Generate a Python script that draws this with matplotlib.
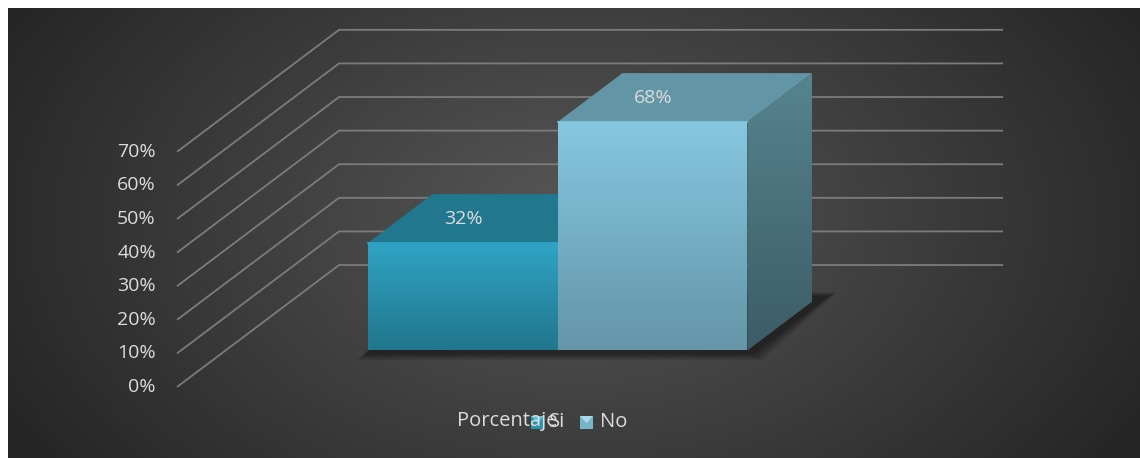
import numpy as np
import matplotlib.pyplot as plt
from matplotlib.patches import Polygon, Rectangle
from matplotlib.colors import LinearSegmentedColormap, to_rgb

plt.rcParams['font.family'] = ['Open Sans', 'DejaVu Sans']

# data
series = ["Si", "No"]
values = [32, 68]
value_labels = ["32%", "68%"]
ticks = [0, 10, 20, 30, 40, 50, 60, 70]
tick_labels = ["0%", "10%", "20%", "30%", "40%", "50%", "60%", "70%"]
legend_title = "Porcentaje"

# styles
front_top = ["#30a4c4", "#86c7e0"]
front_bot = ["#21768d", "#6496a8"]
top_cols = ["#21778d", "#6296a7"]
side_top = "#55848f"
side_bot = "#3d5c67"
text_col = "#dcdcdc"
grid_col = "#7c7c7c"

W, H = 1140, 458
fig = plt.figure(figsize=(W / 100, H / 100), dpi=100, facecolor="white")
ax = fig.add_axes([0, 0, 1, 1])
ax.axis("off")

# one category, spanning u in [-0.5, 0.5]; value axis in percent
XLIM = (-0.7666, 0.9503)
YLIM = (-21.13, 115.18)
DX, DY = 0.244, 36.3          # full depth offset of the floor/back wall
bw = 1 / 3.5                  # bar width (gap width 150%)
d0, d1 = 0.3, 0.7             # bar depth range


def P(u, v, d):
    return (u + d * DX, v + d * DY)


def px2data(px, py):
    u = XLIM[0] + px / W * (XLIM[1] - XLIM[0])
    v = YLIM[1] - py / H * (YLIM[1] - YLIM[0])
    return u, v


def grad_fill(verts, c_top, c_bot, z):
    poly = Polygon(verts, closed=True, facecolor="none", edgecolor="none",
                   transform=ax.transData)
    xs = [p[0] for p in verts]
    ys = [p[1] for p in verts]
    cmap = LinearSegmentedColormap.from_list("g", [c_bot, c_top])
    g = np.linspace(1, 0, 100).reshape(-1, 1)
    im = ax.imshow(g, extent=(min(xs), max(xs), min(ys), max(ys)),
                   cmap=cmap, aspect="auto", origin="upper", zorder=z,
                   interpolation="bilinear")
    im.set_clip_path(poly)


# background radial gradient
bx0, by0 = px2data(8, 8)
bx1, by1 = px2data(W, H)
gy, gx = np.mgrid[8:H:2, 8:W:2]
r = np.sqrt(((gx - 575) / 640.0) ** 2 + ((gy - 220) / 420.0) ** 2)
r = np.clip(r, 0, 1)
c_in = np.array(to_rgb("#575757"))
c_out = np.array(to_rgb("#262626"))
bg = c_in[None, None, :] * (1 - r[..., None]) + c_out[None, None, :] * r[..., None]
ax.imshow(bg, extent=(bx0, bx1, by1, by0), origin="upper", aspect="auto",
          zorder=0, interpolation="bilinear")

# gridlines on side and back walls
for t in ticks:
    a = P(-0.5, t, 0)
    b = P(-0.5, t, 1)
    c = P(0.5, t, 1)
    ax.plot([a[0], b[0], c[0]], [a[1], b[1], c[1]], color=grid_col, lw=1.3,
            zorder=1, solid_capstyle="butt")

for t, lab in zip(ticks, tick_labels):
    ax.text(-0.5 - 0.032, t, lab, ha="right", va="center", fontsize=14,
            color=text_col, zorder=5)

# soft shadow under bars (footprint, slightly pushed right and blurred)
foot = [P(-bw, 0, d0 - 0.02), P(bw, 0, d0 - 0.02),
        P(bw, 0, d1 + 0.04), P(-bw, 0, d1 + 0.04)]
for k in range(10, 0, -1):
    e = 0.0016 * k
    ev = 0.45 * k
    verts = [(foot[0][0] - e + 0.004, foot[0][1] - ev * 0.5),
             (foot[1][0] + e + 0.012, foot[1][1] - ev * 0.5),
             (foot[2][0] + e + 0.012, foot[2][1] + ev * 0.3),
             (foot[3][0] - e, foot[3][1] + ev * 0.3)]
    ax.add_patch(Polygon(verts, closed=True, facecolor="black",
                         edgecolor="none", alpha=0.05, zorder=2))

# bars
for i, (name, val, lab) in enumerate(zip(series, values, value_labels)):
    u0 = -bw + i * bw
    u1 = u0 + bw
    front = [P(u0, 0, d0), P(u1, 0, d0), P(u1, val, d0), P(u0, val, d0)]
    top = [P(u0, val, d0), P(u1, val, d0), P(u1, val, d1), P(u0, val, d1)]
    side = [P(u1, 0, d0), P(u1, 0, d1), P(u1, val, d1), P(u1, val, d0)]
    z = 3 + i * 0.5
    grad_fill(side, side_top, side_bot, z)
    ax.add_patch(Polygon(top, closed=True, facecolor=top_cols[i],
                         edgecolor="none", zorder=z))
    grad_fill(front, front_top[i], front_bot[i], z + 0.1)
    ax.plot([front[3][0], front[2][0]], [front[3][1], front[2][1]],
            color=front_top[i], lw=1.2, zorder=z + 0.2)
    lx, ly = P((u0 + u1) / 2 - 0.048, val, 0.5)
    ax.text(lx, ly, lab, ha="center", va="center", fontsize=14,
            color=text_col, zorder=6)

ax.set_xlim(*XLIM)
ax.set_ylim(*YLIM)


# legend
def fig_xy(px, py):
    return px / W, 1 - py / H


fig.text(*fig_xy(457, 421), legend_title, ha="left", va="center",
         fontsize=14.5, color=text_col)
marker_cols = [("#2a93b0", "#5fc0dc"), ("#78b4c8", "#a8d8ea")]
for (mx, tx), name, (mc, ml) in zip([(531, 549), (580, 600)], series,
                                     marker_cols):
    x0, y0 = fig_xy(mx, 429)
    w, h = 13 / W, 13 / H
    fig.add_artist(Rectangle((x0, y0), w, h, transform=fig.transFigure,
                             facecolor=mc, edgecolor="none"))
    fig.add_artist(Polygon([(x0, y0 + h), (x0 + w, y0 + h),
                            (x0 + w / 2, y0 + h * 0.45)],
                           closed=True, transform=fig.transFigure,
                           facecolor=ml, edgecolor="none"))
    fig.text(*fig_xy(tx, 422), name, ha="left", va="center", fontsize=14.5,
             color=text_col)

fig.savefig("out.png", dpi=100, facecolor="white")
